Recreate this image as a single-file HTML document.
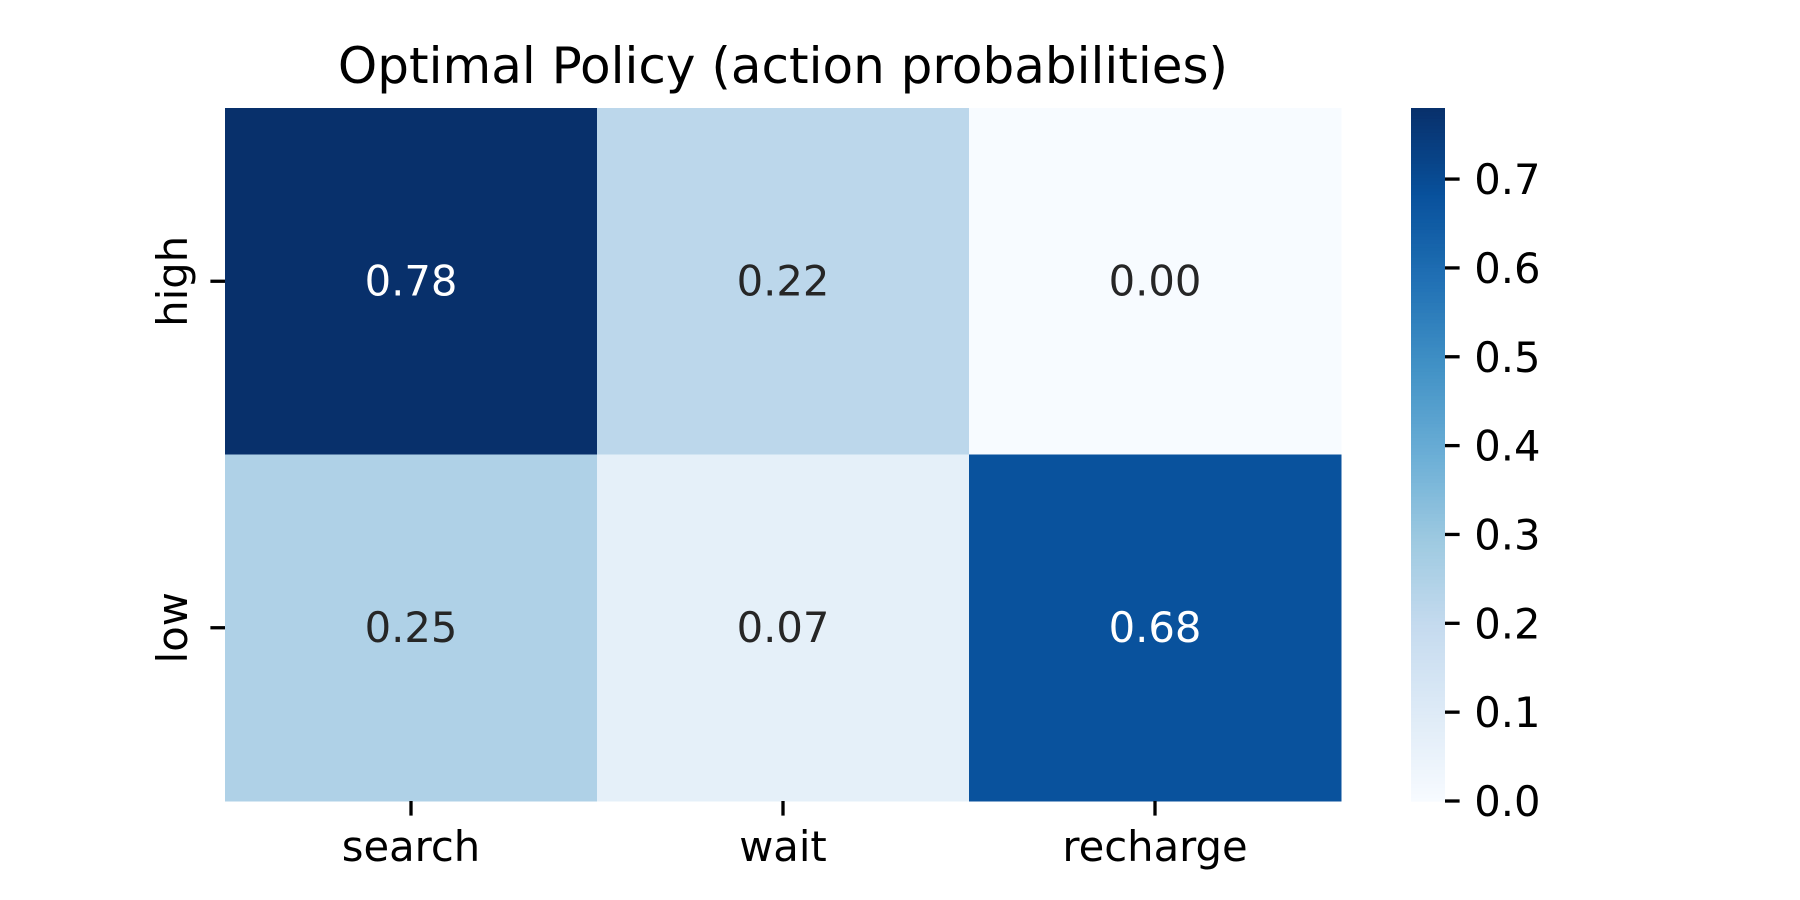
<!DOCTYPE html>
<html><head><meta charset="utf-8"><style>
html,body{margin:0;padding:0;background:#fff;}
svg{display:block;font-family:"DejaVu Sans","Liberation Sans",sans-serif;}
</style></head><body>
<svg id="chart" width="1800" height="900" viewBox="0 0 1800 900">
<text x="783" y="83" font-size="50" text-anchor="middle" fill="#000">Optimal Policy (action probabilities)</text>
<g id="cells"></g>
<g id="xaxis"></g>
<g id="yaxis"></g>
<g id="cbar"></g>
</svg>
<script>
const actions = ["search", "wait", "recharge"];
const states = ["high", "low"];
const rowHigh = [0.78, 0.22, 0.00];
const rowLow = [0.25, 0.07, 0.68];
const cbarTicks = [0.0, 0.1, 0.2, 0.3, 0.4, 0.5, 0.6, 0.7];

const values = [rowHigh, rowLow];
const NS = "http://www.w3.org/2000/svg";
const L = 225, R = 1341, T = 108, B = 801;
const CBL = 1411, CBR = 1445;
const vmin = 0, vmax = Math.max(...rowHigh, ...rowLow);
const stops = ["#f7fbff","#deebf7","#c6dbef","#9ecae1","#6baed6","#4292c6","#2171b5","#08519c","#08306b"];
function hex(h){return [1,3,5].map(i=>parseInt(h.substr(i,2),16));}
function color(v){
  let t = Math.max(0, Math.min(1, (v - vmin) / (vmax - vmin))) * (stops.length - 1);
  let i = Math.min(Math.floor(t), stops.length - 2), f = t - i;
  const a = hex(stops[i]), b = hex(stops[i+1]);
  const c = a.map((x,k)=>Math.round(x + (b[k]-x)*f));
  return {css:`rgb(${c[0]},${c[1]},${c[2]})`, rgb:c};
}
function lum(c){const s=c.map(x=>{x/=255;return x<=0.03928?x/12.92:Math.pow((x+0.055)/1.055,2.4);});return 0.2126*s[0]+0.7152*s[1]+0.0722*s[2];}
const cw = (R - L) / actions.length, ch = (B - T) / states.length;
const xPos = i => L + cw * (i + 0.5);
const yPos = j => T + ch * (j + 0.5);
const cbY = v => B - (v - vmin) / (vmax - vmin) * (B - T);
function mk(tag, attrs, parent){const e=document.createElementNS(NS,tag);for(const k in attrs)e.setAttribute(k,attrs[k]);parent.appendChild(e);return e;}

const cells = document.getElementById('cells');
values.forEach((row, j) => row.forEach((v, i) => {
  const c = color(v);
  const r = mk('rect', {x:L+cw*i, y:T+ch*j, width:cw+0.5, height:ch+0.5, fill:c.css}, cells);
  
  
  const t = mk('text', {x:xPos(i), y:yPos(j)+14, 'font-size':41.7, 'text-anchor':'middle', fill: lum(c.rgb) < 0.408 ? '#ffffff' : '#262626'}, cells);
  t.textContent = v.toFixed(2);
  
  
}));

const xa = document.getElementById('xaxis');
actions.forEach((a, i) => {
  const tk = mk('line', {x1:xPos(i), x2:xPos(i), y1:B, y2:B+14.6, stroke:'#000', 'stroke-width':3.3}, xa);
  
  
  const t = mk('text', {x:xPos(i), y:B+14.6+14.6+31, 'font-size':41.7, 'text-anchor':'middle', fill:'#000'}, xa);
  t.textContent = a;
  
  
});
const ya = document.getElementById('yaxis');
states.forEach((s, j) => {
  const tk = mk('line', {x1:L-14.6, x2:L, y1:yPos(j), y2:yPos(j), stroke:'#000', 'stroke-width':3.3}, ya);
  
  
  const x = L - 29.2 - 9;
  const t = mk('text', {x:x, y:yPos(j), 'font-size':41.7, 'text-anchor':'middle', fill:'#000', transform:`rotate(-90 ${x} ${yPos(j)})`}, ya);
  t.textContent = s;
  
  
});

const cb = document.getElementById('cbar');
const N = 200;
for (let k = 0; k < N; k++) {
  const v0 = vmin + (vmax - vmin) * k / N, v1 = vmin + (vmax - vmin) * (k + 1) / N;
  const r = mk('rect', {x:CBL, y:cbY(v1), width:CBR-CBL, height:cbY(v0)-cbY(v1)+0.6, fill:color((v0+v1)/2).css}, cb);
  
  
}
cbarTicks.forEach(v => {
  const tk = mk('line', {x1:CBR, x2:CBR+14.6, y1:cbY(v), y2:cbY(v), stroke:'#000', 'stroke-width':3.3}, cb);
  
  
  const t = mk('text', {x:CBR+29.2, y:cbY(v)+15, 'font-size':41.7, fill:'#000'}, cb);
  t.textContent = v.toFixed(1);
  
  
});
</script>
</body></html>
